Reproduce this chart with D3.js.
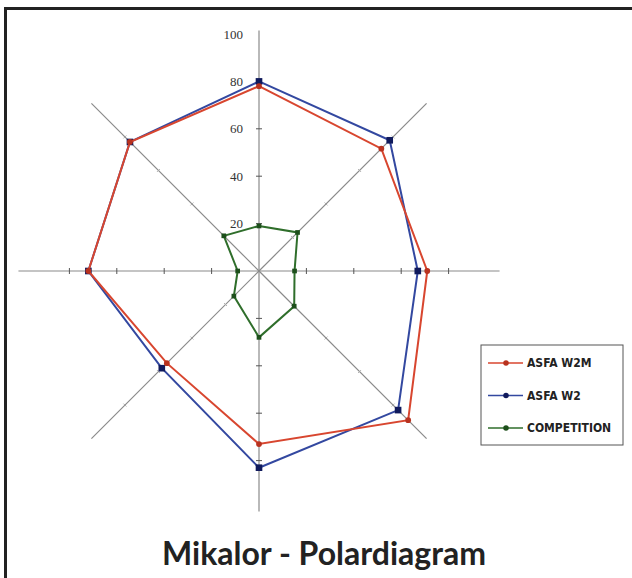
<!DOCTYPE html>
<html>
<head>
<meta charset="utf-8">
<script src="https://cdn.jsdelivr.net/npm/d3@7"></script>
<style>
  body { margin: 0; background: #fff; }
  svg { display: block; }
</style>
</head>
<body>
<div id="chart"></div>
<script>
// Data (clockwise from the top axis)
var directions = ["N", "NE", "E", "SE", "S", "SW", "W", "NW"];
var asfaW2M = [78, 73, 71, 89, 73, 55, 72, 77];
var asfaW2 = [80, 78, 67, 83, 83, 58, 72, 77];
var competition = [19, 23, 15, 21, 28, 15, 9, 21];
var tickValues = [20, 40, 60, 80, 100];
var seriesNames = ["ASFA W2M", "ASFA W2", "COMPETITION"];

var svgWidth = 632;
var svgHeight = 578;
var cx = 259, cy = 271;

var svg = d3.select("#chart")
    .append("svg")
    .attr("width", svgWidth)
    .attr("height", svgHeight);

// frame (right/bottom edges fall outside the picture)
svg.append("rect")
    .attr("x", 5.5)
    .attr("y", 8.5)
    .attr("width", 660)
    .attr("height", 600)
    .attr("fill", "none")
    .attr("stroke", "#222")
    .attr("stroke-width", 3);

var chartGroup = svg.append("g")
    .attr("transform", `translate(${cx}, ${cy})`);

var rScale = d3.scaleLinear().domain([0, 100]).range([0, 237]);
var aScale = d3.scaleLinear().domain([0, directions.length]).range([0, 2 * Math.PI]);

function px(v, i) { return rScale(v) * Math.sin(aScale(i)); }
function py(v, i) { return -rScale(v) * Math.cos(aScale(i)); }

// spokes
directions.forEach(function(d, i) {
    var main = (i % 2 === 0);
    var ext = main ? 101.5 : 100;
    chartGroup.append("line")
        .attr("x1", 0).attr("y1", 0)
        .attr("x2", px(ext, i)).attr("y2", py(ext, i))
        .attr("stroke", "#8a8a8a")
        .attr("stroke-width", 1.2);

    // small tick marks across each spoke
    tickValues.slice(0, 4).forEach(function(t) {
        var a = aScale(i);
        var tx = px(t, i), ty = py(t, i);
        var len = main ? 3 : 2;
        var nx = Math.cos(a) * len, ny = Math.sin(a) * len;
        chartGroup.append("line")
            .attr("x1", tx - nx).attr("y1", ty - ny)
            .attr("x2", tx + nx).attr("y2", ty + ny)
            .attr("stroke", main ? "#555" : "#aaa")
            .attr("stroke-width", 1);
    });
});

// tick labels on the top axis
chartGroup.selectAll(".tickLabel")
    .data(tickValues)
    .enter().append("text")
    .attr("class", "tickLabel")
    .attr("x", -16)
    .attr("y", d => -rScale(d))
    .attr("dy", "0.35em")
    .attr("text-anchor", "end")
    .attr("font-family", "Liberation Serif, serif")
    .attr("font-size", "13px")
    .attr("fill", "#333")
    .text(d => d);

var series = [
    { name: seriesNames[0], values: asfaW2M, color: "#d8462f", marker: "#b8321f", symbol: d3.symbolCircle, size: 26 },
    { name: seriesNames[1], values: asfaW2, color: "#3348a0", marker: "#101a5c", symbol: d3.symbolSquare, size: 44 },
    { name: seriesNames[2], values: competition, color: "#2f6e2b", marker: "#1d4f1b", symbol: d3.symbolSquare, size: 22 }
];

var radialLine = d3.lineRadial()
    .angle((d, i) => aScale(i))
    .radius(d => rScale(d))
    .curve(d3.curveLinearClosed);

// draw blue first so red sits on top as in the print
[series[1], series[0], series[2]].forEach(function(s) {
    chartGroup.append("path")
        .attr("d", radialLine(s.values))
        .attr("fill", "none")
        .attr("stroke", s.color)
        .attr("stroke-width", 2);

    chartGroup.selectAll(null)
        .data(s.values)
        .enter().append("path")
        .attr("transform", (d, i) => `translate(${px(d, i)}, ${py(d, i)})`)
        .attr("d", d3.symbol().type(s.symbol).size(s.size))
        .attr("fill", s.marker);
});

// legend
var legend = svg.append("g").attr("transform", "translate(481, 345)");
legend.append("rect")
    .attr("width", 142)
    .attr("height", 100)
    .attr("fill", "#fff")
    .attr("stroke", "#555")
    .attr("stroke-width", 1);

series.forEach(function(s, i) {
    var y = 18 + i * 32.5;
    legend.append("line")
        .attr("x1", 7).attr("x2", 42)
        .attr("y1", y).attr("y2", y)
        .attr("stroke", s.color)
        .attr("stroke-width", 1.6);
    legend.append("path")
        .attr("transform", `translate(25, ${y})`)
        .attr("d", d3.symbol().type(d3.symbolCircle).size(24))
        .attr("fill", s.marker);
    legend.append("text")
        .attr("x", 46)
        .attr("y", y)
        .attr("dy", "0.35em")
        .attr("font-family", "DejaVu Sans Condensed, DejaVu Sans, sans-serif")
        .attr("font-weight", "bold")
        .attr("font-size", "12px")
        .attr("fill", "#222")
        .text(s.name);
});

// title
svg.append("text")
    .attr("x", 324)
    .attr("y", 565)
    .attr("text-anchor", "middle")
    .attr("font-family", "Lato, sans-serif")
    .attr("font-weight", "bold")
    .attr("font-size", "32px")
    .attr("fill", "#222")
    .text("Mikalor - Polardiagram");
</script>
</body>
</html>
